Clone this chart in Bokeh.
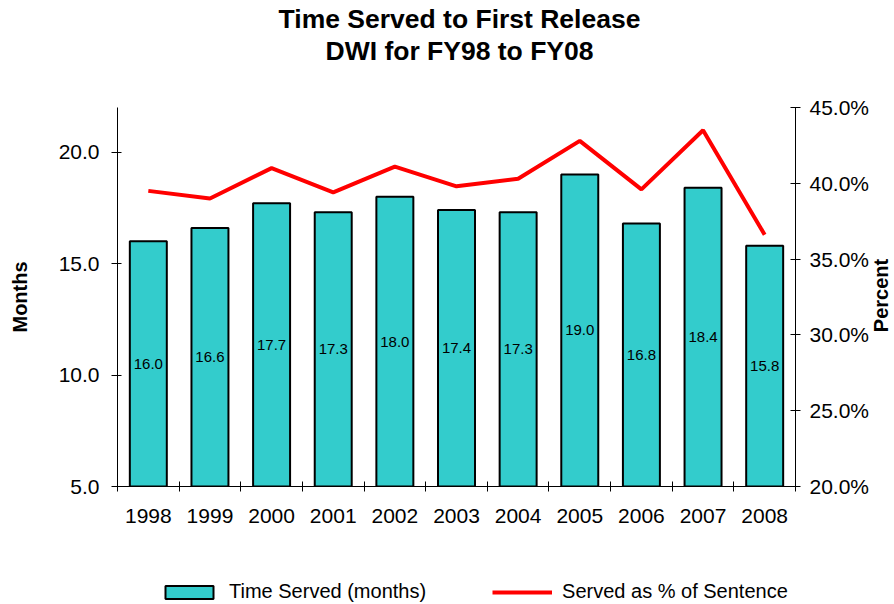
import math
import numpy as np
from bokeh.plotting import figure
from bokeh.layouts import column
from bokeh.models import (Range1d, LinearAxis, FixedTicker, PrintfTickFormatter,
                          Label, Legend, LegendItem, ColumnDataSource)
from bokeh.core.properties import value
from bokeh.embed import file_html
from bokeh.resources import INLINE

# ---- data ----
years = ["1998", "1999", "2000", "2001", "2002", "2003", "2004", "2005", "2006", "2007", "2008"]
time_served = [16.0, 16.6, 17.7, 17.3, 18.0, 17.4, 17.3, 19.0, 16.8, 18.4, 15.8]
pct_served = [39.5, 39.0, 41.0, 39.4, 41.1, 39.8, 40.3, 42.8, 39.6, 43.5, 36.6]
left_ticks = [5, 10, 15, 20]
right_ticks = [20, 25, 30, 35, 40, 45]
title_lines = ["Time Served to First Release", "DWI for FY98 to FY08"]
left_label = "Months"
right_label = "Percent"
bar_legend = "Time Served (months)"
line_legend = "Served as % of Sentence"

y_min, y_max = 5, 22
pct_min, pct_max = 20, 45

FONT = "Liberation Sans"
BAR_FILL = "#33CCCC"
LINE_COLOR = "#FF0000"
W = 894
TOP_H, MAIN_H, LEG_H = 80, 484, 40


def bare(fig):
    fig.title.visible = False
    fig.outline_line_color = None
    fig.background_fill_color = "white"
    fig.border_fill_color = "white"
    fig.xgrid.visible = False
    fig.ygrid.visible = False
    return fig


centers = [i + 0.5 for i in range(len(years))]
bounds = list(range(len(years) + 1))
mid_y = [(y_min + v) / 2 for v in time_served]
bar_text = [f"{v:.1f}" for v in time_served]
src = ColumnDataSource(dict(x=centers, top=time_served, pct=pct_served, mid=mid_y, txt=bar_text))

# ---------- title strip (its frame is aligned with the chart frame by the column) ----------
pt = bare(figure(width=W, height=TOP_H, x_range=Range1d(0, 1), y_range=Range1d(0, 1),
                 x_axis_type=None, y_axis_type=None, output_backend="svg", toolbar_location=None,
                 min_border=0, min_border_left=0, min_border_right=0, min_border_top=0, min_border_bottom=0))
for txt, ypos in zip(title_lines, [62, 30]):
    pt.add_layout(Label(x=342, y=ypos, x_units="screen", y_units="screen", text=txt,
                        text_align="center", text_baseline="middle", text_font=FONT,
                        text_font_size="26.5px", text_font_style="bold", text_color="black"))

# ---------- main chart ----------
p = bare(figure(width=W, height=MAIN_H, x_range=Range1d(0, len(years)), y_range=Range1d(y_min, y_max),
                output_backend="svg", toolbar_location=None,
                min_border_left=117, min_border_right=98, min_border_top=27, min_border_bottom=78))
p.extra_y_ranges = {"pct": Range1d(pct_min, pct_max)}

p.vbar(x="x", top="top", bottom=y_min, width=0.6, source=src,
       fill_color=BAR_FILL, line_color="black", line_width=2)
p.line(x="x", y="pct", source=src, y_range_name="pct", line_color=LINE_COLOR, line_width=4)
p.text(x="x", y="mid", text="txt", source=src, text_align="center", text_baseline="middle",
       text_font=value(FONT), text_font_size="15px", text_color="black")


def style_axis(ax):
    ax.major_label_text_font = FONT
    ax.major_label_text_font_size = "21px"
    ax.major_label_text_color = "black"
    ax.axis_line_color = "black"
    ax.major_tick_line_color = "black"
    ax.minor_tick_line_color = "black"
    ax.axis_label_text_font = FONT
    ax.axis_label_text_font_size = "20px"
    ax.axis_label_text_font_style = "bold"
    ax.axis_label_text_color = "black"


# left axis
ya = p.yaxis[0]
style_axis(ya)
ya.ticker = FixedTicker(ticks=left_ticks)
ya.formatter = PrintfTickFormatter(format="%.1f")
ya.major_tick_out = 6
ya.major_tick_in = 4
ya.minor_tick_out = 0
ya.minor_tick_in = 0
ya.major_label_standoff = 12
ya.axis_label = left_label
ya.axis_label_standoff = 25

# right axis
ra = LinearAxis(y_range_name="pct", ticker=FixedTicker(ticks=right_ticks),
                formatter=PrintfTickFormatter(format="%.1f%%"))
style_axis(ra)
ra.major_tick_out = 5
ra.major_tick_in = 5
ra.minor_tick_out = 0
ra.minor_tick_in = 0
ra.major_label_standoff = 9
p.add_layout(ra, "right")

# right axis title, reading bottom to top, placed in the right side panel
p.add_layout(Label(x=12.38, y=32.6, y_range_name="pct", text=right_label, angle=math.pi / 2,
                   text_align="center", text_baseline="middle", text_font=FONT,
                   text_font_size="20px", text_font_style="bold", text_color="black"), "right")

# bottom axis: labels at category centres, ticks between categories
xa = p.xaxis[0]
style_axis(xa)
xa.ticker = FixedTicker(ticks=centers, minor_ticks=bounds)
xa.major_label_overrides = {c: y for c, y in zip(centers, years)}
xa.major_tick_out = 0
xa.major_tick_in = 0
xa.minor_tick_out = 5
xa.minor_tick_in = 5
xa.major_label_standoff = 17

# ---------- legend strip (legend glyphs only; a single empty NaN row draws nothing) ----------
pl = bare(figure(width=W, height=LEG_H, x_range=Range1d(0, 1), y_range=Range1d(0, 1),
                 x_axis_type=None, y_axis_type=None, output_backend="svg", toolbar_location=None,
                 min_border=0, min_border_left=0, min_border_right=0, min_border_top=0, min_border_bottom=0))
blank = ColumnDataSource(dict(x=np.array([np.nan]), top=np.array([np.nan]), y=np.array([np.nan])))
lb = pl.vbar(x="x", top="top", bottom=0, width=0.6, source=blank,
             fill_color=BAR_FILL, line_color="black", line_width=2)
ll = pl.line(x="x", y="y", source=blank, line_color=LINE_COLOR, line_width=4)
legend = Legend(items=[LegendItem(label=value(bar_legend), renderers=[lb]),
                       LegendItem(label=value(line_legend), renderers=[ll])],
                location=(42, 1), orientation="horizontal",
                border_line_color=None, background_fill_alpha=0,
                padding=0, margin=0, spacing=66, label_standoff=10,
                glyph_width=60, glyph_height=16,
                label_text_font=FONT, label_text_font_size="20px", label_text_color="black")
pl.add_layout(legend)

layout = column(pt, p, pl, spacing=0)
open("out.html", "w").write(file_html(layout, INLINE))
